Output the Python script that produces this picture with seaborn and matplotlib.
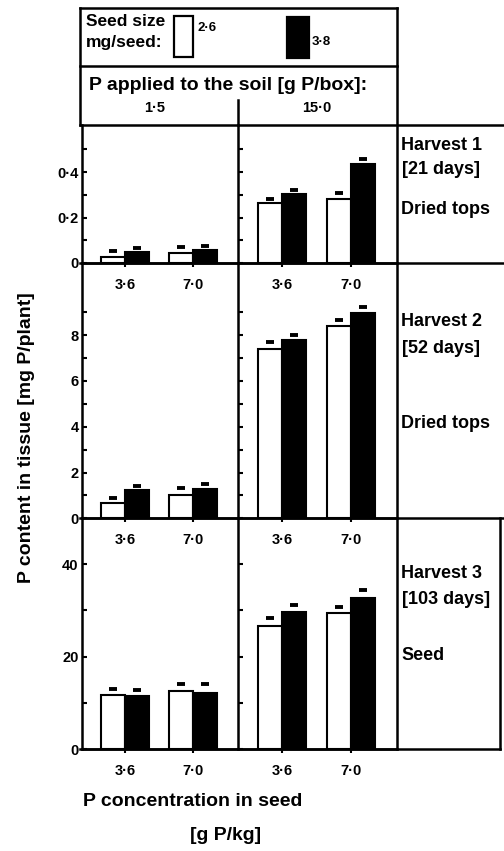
import numpy as np
import pandas as pd
import matplotlib
matplotlib.use("Agg")
import matplotlib.pyplot as plt
import seaborn as sns
from matplotlib.lines import Line2D
from matplotlib.patches import Rectangle
from matplotlib.container import BarContainer

# ---------------- data ----------------
harvests = ["Harvest 1", "Harvest 2", "Harvest 3"]
harvest_days = ["[21 days]", "[52 days]", "[103 days]"]
harvest_tissue = ["Dried tops", "Dried tops", "Seed"]
soil_p = ["1·5", "15·0"]
seed_conc = ["3·6", "7·0"]
seed_size = ["2·6", "3·8"]

# values indexed [harvest][soil P][seed conc]
mean_small = [[[0.028, 0.043], [0.265, 0.281]],
              [[0.65, 1.02], [7.38, 8.41]],
              [[11.7, 12.66], [26.6, 29.4]]]
mean_large = [[[0.047, 0.057], [0.303, 0.434]],
              [[1.24, 1.27], [7.79, 8.98]],
              [[11.6, 12.2], [29.6, 32.6]]]
se_small = [[[0.024, 0.026], [0.016, 0.027]],
            [[0.22, 0.29], [0.32, 0.25]],
            [[1.3, 1.45], [1.7, 1.4]]]
se_large = [[[0.019, 0.017], [0.017, 0.022]],
            [[0.15, 0.23], [0.21, 0.26]],
            [[1.2, 1.9], [1.6, 1.8]]]

row_ylim = [0.607, 11.15, 49.9]
row_major = [[0, 0.2, 0.4], [0, 2, 4, 6, 8], [0, 20, 40]]
row_major_lbl = [["0", "0·2", "0·4"], ["0", "2", "4", "6", "8"], ["0", "20", "40"]]
row_minor = [[0.1, 0.3, 0.5], [1, 3, 5, 7, 9], [10, 30]]

records = []
for h in range(3):
    for s in range(2):
        for c in range(2):
            records.append(dict(harvest=harvests[h], soil=soil_p[s], conc=seed_conc[c],
                                size=seed_size[0], value=mean_small[h][s][c], se=se_small[h][s][c]))
            records.append(dict(harvest=harvests[h], soil=soil_p[s], conc=seed_conc[c],
                                size=seed_size[1], value=mean_large[h][s][c], se=se_large[h][s][c]))
df = pd.DataFrame(records)

# ---------------- style ----------------
sns.set_theme(style="ticks")
plt.rcParams["font.family"] = ["Liberation Sans", "DejaVu Sans"]
plt.rcParams["font.weight"] = "bold"
plt.rcParams["axes.linewidth"] = 1.8
plt.rcParams["text.color"] = "black"
plt.rcParams["xtick.color"] = "black"
plt.rcParams["ytick.color"] = "black"
plt.rcParams["xtick.labelcolor"] = "black"
plt.rcParams["ytick.labelcolor"] = "black"
plt.rcParams["axes.edgecolor"] = "black"

W, H = 504, 851
fig = plt.figure(figsize=(W / 100, H / 100), dpi=100)
fig.patch.set_facecolor("white")

def fx(x):
    return x / W

def fy(y):
    return 1 - y / H

def hline(y, x0, x1, lw=1.8):
    fig.add_artist(Line2D([fx(x0), fx(x1)], [fy(y), fy(y)], transform=fig.transFigure,
                          color="black", lw=lw, solid_capstyle="projecting"))

def vline(x, y0, y1, lw=1.8):
    fig.add_artist(Line2D([fx(x), fx(x)], [fy(y0), fy(y1)], transform=fig.transFigure,
                          color="black", lw=lw, solid_capstyle="projecting"))

row_top = [125, 263, 518.3]
row_bot = [263, 518.3, 749.3]
col_left = [81.5, 238.3]
col_right = [238.3, 396.5]

for h in range(3):
    for s in range(2):
        x0, x1 = col_left[s], col_right[s]
        y0, y1 = row_top[h], row_bot[h]
        ax = fig.add_axes([fx(x0), fy(y1), (x1 - x0) / W, (y1 - y0) / H])
        sub = df[(df.harvest == harvests[h]) & (df.soil == soil_p[s])]
        sns.barplot(data=sub, x="conc", y="value", hue="size", order=seed_conc,
                    hue_order=seed_size, palette=["white", "black"], saturation=1,
                    edgecolor="black", linewidth=1.5, width=0.7, errorbar=None,
                    legend=False, ax=ax)
        bar_conts = [c for c in ax.containers if isinstance(c, BarContainer)]
        for k, cont in enumerate(bar_conts):
            ses = [sub[(sub["size"] == seed_size[k]) & (sub.conc == c)].se.iloc[0] for c in seed_conc]
            xs = [p.get_x() + p.get_width() / 2 for p in cont.patches]
            tops = [p.get_height() for p in cont.patches]
            _, caps, _ = ax.errorbar(xs, tops, yerr=[np.zeros(len(ses)), ses], fmt="none",
                                     ecolor="black", elinewidth=0, capsize=3, capthick=2.8)
            # keep only the upper cap (the lower one coincides with the bar top)
            for cl in caps:
                yd = np.asarray(cl.get_ydata(), dtype=float)
                if np.allclose(yd, tops):
                    cl.set_visible(False)
        ax.set_xlim(-0.637, 1.663)
        ax.set_ylim(0, row_ylim[h])
        ax.set_xlabel("")
        ax.set_ylabel("")
        ax.set_facecolor("none")
        for sp in ["top", "right"]:
            ax.spines[sp].set_visible(False)
        ax.spines["left"].set_linewidth(1.8)
        ax.spines["bottom"].set_linewidth(1.8)
        ax.set_yticks(row_major[h])
        ax.set_yticks(row_minor[h], minor=True)
        ax.set_xticks([0, 1])
        ax.set_xticklabels(seed_conc)
        if s == 0:
            ax.set_yticklabels(row_major_lbl[h])
        else:
            ax.set_yticklabels([])
        ax.tick_params(axis="y", which="both", direction="in", length=3.5, width=1.5,
                       labelsize=10.5, pad=2)
        ax.tick_params(axis="x", direction="out", length=3, width=1.5, labelsize=10.5, pad=7.5)
        for t in ax.get_xticklabels() + ax.get_yticklabels():
            t.set_fontweight("bold")

# ---------------- frame lines ----------------
hline(8, 80, 397)
hline(66, 80, 397)
vline(80, 8, 125)
vline(397, 8, 749.3)
vline(238.3, 100, 125)
hline(125, 80, 504)
hline(263, 80, 504)
hline(518.3, 80, 504)
hline(749.3, 80, 500)
vline(500, 518.3, 749.3)

# ---------------- header / legend ----------------
fs_kw = dict(fontweight="bold", color="black")
fig.text(fx(86), fy(21), "Seed size", fontsize=12.5, ha="left", va="center", **fs_kw)
fig.text(fx(86), fy(43), "mg/seed:", fontsize=12.5, ha="left", va="center", **fs_kw)
fig.add_artist(Rectangle((fx(174), fy(57)), 19 / W, 41 / H, transform=fig.transFigure,
                         facecolor="white", edgecolor="black", lw=1.6))
fig.text(fx(197), fy(28), seed_size[0], fontsize=9.5, ha="left", va="center", **fs_kw)
fig.add_artist(Rectangle((fx(287), fy(58)), 22 / W, 41 / H, transform=fig.transFigure,
                         facecolor="black", edgecolor="black", lw=1.6))
fig.text(fx(312), fy(42), seed_size[1], fontsize=9.5, ha="left", va="center", **fs_kw)

fig.text(fx(89), fy(86), "P applied to the soil [g P/box]:", fontsize=14,
         ha="left", va="center", **fs_kw)
fig.text(fx(155), fy(108), soil_p[0], fontsize=10.5, ha="center", va="center", **fs_kw)
fig.text(fx(317), fy(108), soil_p[1], fontsize=10.5, ha="center", va="center", **fs_kw)

# ---------------- right labels ----------------
lab_y = [(145, 169, 210), (322, 348, 424), (573, 600, 655)]
for h in range(3):
    ya, yb, yc = lab_y[h]
    fig.text(fx(401), fy(ya), harvests[h], fontsize=13, ha="left", va="center", **fs_kw)
    fig.text(fx(402), fy(yb), harvest_days[h], fontsize=13, ha="left", va="center", **fs_kw)
    fig.text(fx(401), fy(yc), harvest_tissue[h], fontsize=13, ha="left", va="center", **fs_kw)

# ---------------- axis titles ----------------
fig.text(fx(27), fy(438), "P content in tissue [mg P/plant]", fontsize=14, rotation=90,
         ha="center", va="center", **fs_kw)
fig.text(fx(83), fy(801), "P concentration in seed", fontsize=14, ha="left", va="center", **fs_kw)
fig.text(fx(226), fy(835), "[g P/kg]", fontsize=14, ha="center", va="center", **fs_kw)

fig.savefig("out.png", dpi=100, facecolor="white")
